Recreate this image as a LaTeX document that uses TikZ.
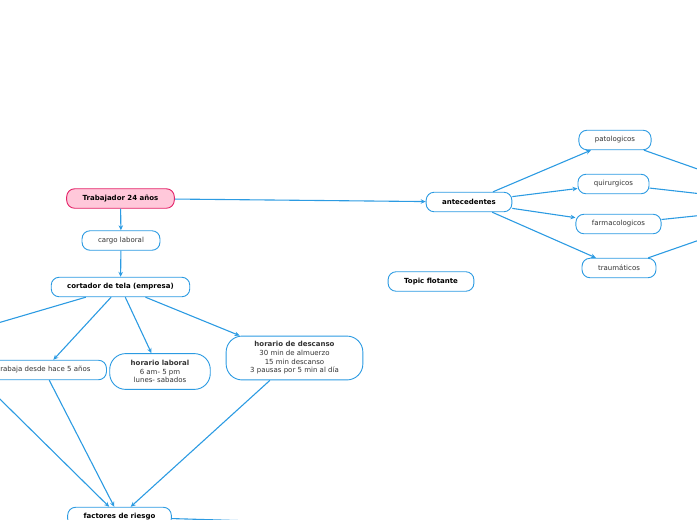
\documentclass[tikz,border=0pt]{standalone}
\usepackage{fontspec}
\setmainfont{DejaVu Sans}
\usetikzlibrary{arrows.meta, positioning}
\definecolor{linkblue}{RGB}{44,155,226}
\definecolor{rootred}{RGB}{228,34,104}
\definecolor{rootpink}{RGB}{255,200,218}

\begin{document}
\begin{tikzpicture}[x=1pt, y=-1pt,
                topic/.style={draw=linkblue, line width=0.9pt, fill=white, rounded corners=8pt, minimum height=19.5pt, inner xsep=16pt, inner ysep=4.5pt, align=center, text=black!80, font=\fontsize{7}{8.7}\selectfont},
                boldtopic/.style={topic, text=black, font=\fontsize{7}{8.7}\selectfont\bfseries},
                roottopic/.style={boldtopic, draw=rootred, fill=rootpink},
                bigtopic/.style={topic, rounded corners=16pt, inner xsep=21pt, inner ysep=6.5pt},
                link/.style={draw=linkblue, line width=1.1pt, -{Stealth[length=5pt, width=4.5pt]}}]

                % Page frame (the map is cut off at the edges)
                \path[use as bounding box, clip] (0,0) rectangle (697,520);

                % Main branch
                \node[roottopic] (trab) at (120.5,198.5) {Trabajador 24 años};
                \node[topic] (cargo) at (121,240.5) {cargo laboral};
                \node[boldtopic] (cort) at (120.5,287) {cortador de tela (empresa)};

                % Details of the job
                \node[topic] (anios) at (44,370) {trabaja desde hace 5 años};
                \node[bigtopic] (hlab) at (160,371.5) {\textbf{horario laboral}\\6 am- 5 pm\\lunes- sabados};
                \node[bigtopic, inner xsep=24pt, inner ysep=5.5pt] (hdesc) at (294.5,358) {\textbf{horario de descanso}\\30 min de almuerzo\\15 min descanso\\3 pausas por 5 min al día};
                \node[boldtopic] (riesgo) at (119.5,517) {factores de riesgo};

                % Antecedentes branch
                \node[boldtopic] (ante) at (469,202) {antecedentes};
                \node[topic] (pato) at (615,140) {patologicos};
                \node[topic] (quir) at (613.5,184) {quirurgicos};
                \node[topic] (farm) at (618.5,224) {farmacologicos};
                \node[topic] (trau) at (619,268) {traumáticos};

                % Floating topic
                \node[boldtopic] (flot) at (431,281.5) {Topic flotante};

                % Topics lying outside the page
                \coordinate (fueraizq) at (-60,340);
                \coordinate (fueradcha) at (800,205);
                \coordinate (fueraabajo) at (420,526);

                % Connectors
                \draw[link] (trab) -- (cargo);
                \draw[link] (trab) -- (ante);
                \draw[link] (cargo) -- (cort);
                \draw[link] (cort) -- (fueraizq);
                \draw[link] (cort) -- (anios);
                \draw[link] (cort) -- (hlab);
                \draw[link] (cort) -- (hdesc);
                \draw[link] (fueraizq) -- (riesgo);
                \draw[link] (anios) -- (riesgo);
                \draw[link] (hdesc) -- (riesgo);
                \draw[link] (riesgo) -- (fueraabajo);
                \draw[link] (ante) -- (pato);
                \draw[link] (ante) -- (quir);
                \draw[link] (ante) -- (farm);
                \draw[link] (ante) -- (trau);
                \foreach \n in {pato, quir, farm, trau}
                    \draw[link] (\n) -- (fueradcha);
            \end{tikzpicture}
\end{document}
